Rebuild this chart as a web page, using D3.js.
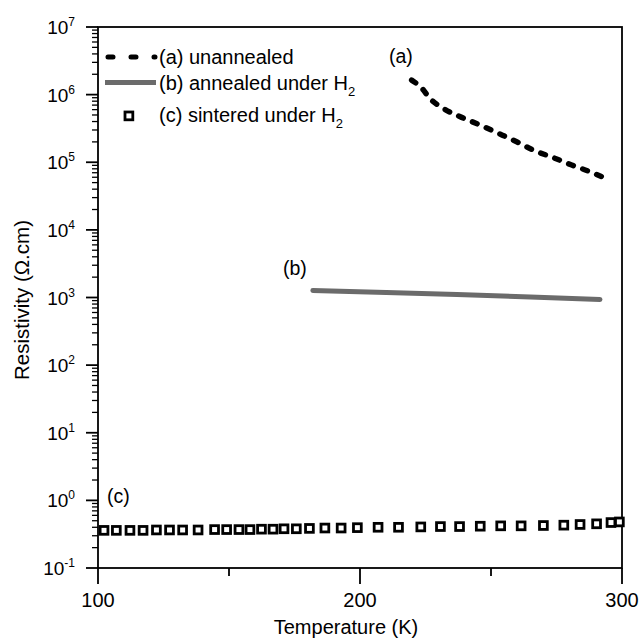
<!DOCTYPE html>
<html>
<head>
<meta charset="utf-8">
<script src="https://cdn.jsdelivr.net/npm/d3@7"></script>
<style>
  body { margin: 0; background: #fff; }
  svg { font-family: "Liberation Sans", Arial, sans-serif; }
</style>
</head>
<body>
<script>
// series (a) unannealed
var tempA = [219.7, 224.2, 226.1, 231.8, 238.8, 245.8, 252.8, 259.8, 266.2, 273.8, 280.8, 287.8, 292.3];
var resA = [1.64e6, 1.17e6, 9.3e5, 6.27e5, 4.61e5, 3.55e5, 2.68e5, 2.01e5, 1.51e5, 1.17e5, 9.1e4, 7.24e4, 6.1e4];
// series (b) annealed under H2
var tempB = [182, 210, 237, 265, 291.6];
var resB = [1270, 1190, 1110, 1020, 935];
// series (c) sintered under H2
var tempC = [102.3, 107, 112.2, 117.2, 122.3, 127.3, 132.3, 138.2, 144.5, 149.1, 153.8, 158, 162.4, 166.8,
             171, 175.7, 180.7, 186.6, 192.8, 199, 206.9, 214.7, 223.2, 230.7, 238, 245.9, 253.7, 261.5,
             270, 277.8, 284, 290.3, 295.8, 299];
var resC = [0.36, 0.36, 0.36, 0.36, 0.365, 0.365, 0.365, 0.365, 0.37, 0.37, 0.37, 0.37, 0.375, 0.375,
            0.38, 0.38, 0.385, 0.39, 0.39, 0.395, 0.40, 0.40, 0.405, 0.41, 0.41, 0.415, 0.42, 0.42,
            0.425, 0.43, 0.44, 0.45, 0.47, 0.48];

var xTicks = [100, 150, 200, 250, 300];
var xLabels = [100, 200, 300];
var yMajor = [-1, 0, 1, 2, 3, 4, 5, 6, 7];

var W = 640, H = 639;
var x = d3.scaleLinear().domain([100, 300]).range([98, 622]);
var y = d3.scaleLog().domain([0.1, 1e7]).range([568, 27]);

var svg = d3.select("body").append("svg")
    .attr("width", W).attr("height", H);

// frame
svg.append("rect")
    .attr("x", 98).attr("y", 27)
    .attr("width", 524).attr("height", 541)
    .attr("fill", "none").attr("stroke", "#000").attr("stroke-width", 1.8);

// x ticks
svg.selectAll(".xt").data(xTicks).enter().append("line")
    .attr("x1", function(d) { return x(d); })
    .attr("x2", function(d) { return x(d); })
    .attr("y1", 568)
    .attr("y2", function(d) { return d % 100 == 0 ? 584 : 576; })
    .attr("stroke", "#000").attr("stroke-width", 1.8);

svg.selectAll(".xl").data(xLabels).enter().append("text")
    .attr("x", function(d) { return x(d); })
    .attr("y", 607)
    .attr("text-anchor", "middle")
    .attr("font-size", 20)
    .text(function(d) { return d; });

// y ticks (major + minor)
var minor = [];
for (var e = -1; e < 7; e++) {
    for (var m = 2; m <= 9; m++) minor.push(m * Math.pow(10, e));
}
svg.selectAll(".ymin").data(minor).enter().append("line")
    .attr("x1", 92).attr("x2", 98)
    .attr("y1", function(d) { return y(d); })
    .attr("y2", function(d) { return y(d); })
    .attr("stroke", "#000").attr("stroke-width", 1.3);

svg.selectAll(".ymaj").data(yMajor).enter().append("line")
    .attr("x1", 86).attr("x2", 98)
    .attr("y1", function(d) { return y(Math.pow(10, d)); })
    .attr("y2", function(d) { return y(Math.pow(10, d)); })
    .attr("stroke", "#000").attr("stroke-width", 1.8);

var yl = svg.selectAll(".yl").data(yMajor).enter().append("text")
    .attr("x", 75)
    .attr("y", function(d) { return y(Math.pow(10, d)) + 7; })
    .attr("text-anchor", "end")
    .attr("font-size", 19);
yl.append("tspan").text("10");
yl.append("tspan").attr("font-size", 12).attr("dy", -8)
    .text(function(d) { return d; });

// axis titles
svg.append("text")
    .attr("x", 346).attr("y", 634)
    .attr("text-anchor", "middle").attr("font-size", 20)
    .text("Temperature (K)");
svg.append("text")
    .attr("transform", "translate(29,300) rotate(-90)")
    .attr("text-anchor", "middle").attr("font-size", 20.5)
    .text("Resistivity (\u03A9.cm)");

// series (a)
var lineA = d3.line()
    .x(function(d, i) { return x(tempA[i]); })
    .y(function(d, i) { return y(resA[i]); })
    .curve(d3.curveMonotoneX);
svg.append("path")
    .attr("d", lineA(resA))
    .attr("fill", "none").attr("stroke", "#000")
    .attr("stroke-width", 5.5).attr("stroke-linecap", "round")
    .attr("stroke-dasharray", "5,10");

// series (b)
var lineB = d3.line()
    .x(function(d, i) { return x(tempB[i]); })
    .y(function(d, i) { return y(resB[i]); });
svg.append("path")
    .attr("d", lineB(resB))
    .attr("fill", "none").attr("stroke", "#6b6b6b")
    .attr("stroke-width", 5).attr("stroke-linecap", "round");

// series (c)
svg.selectAll(".sq").data(resC).enter().append("rect")
    .attr("x", function(d, i) { return x(tempC[i]) - 3.9; })
    .attr("y", function(d) { return y(d) - 3.9; })
    .attr("width", 7.8).attr("height", 7.8)
    .attr("fill", "#fff").attr("stroke", "#000").attr("stroke-width", 2.8);

// annotations
svg.append("text").attr("x", 389).attr("y", 63).attr("font-size", 19.5).text("(a)");
svg.append("text").attr("x", 283).attr("y", 275).attr("font-size", 19.5).text("(b)");
svg.append("text").attr("x", 107).attr("y", 503).attr("font-size", 19.5).text("(c)");

// legend
var lg = svg.append("g");
lg.append("line").attr("x1", 108).attr("x2", 155).attr("y1", 57).attr("y2", 57)
    .attr("stroke", "#000").attr("stroke-width", 5).attr("stroke-linecap", "round")
    .attr("stroke-dasharray", "5,18");
lg.append("line").attr("x1", 105).attr("x2", 156).attr("y1", 82.5).attr("y2", 82.5)
    .attr("stroke", "#6b6b6b").attr("stroke-width", 5);
lg.append("rect").attr("x", 125).attr("y", 112).attr("width", 7.8).attr("height", 7.8)
    .attr("fill", "#fff").attr("stroke", "#000").attr("stroke-width", 2.8);

var t1 = lg.append("text").attr("x", 159).attr("y", 64).attr("font-size", 20);
t1.text("(a) unannealed");
var t2 = lg.append("text").attr("x", 159).attr("y", 90).attr("font-size", 20);
t2.append("tspan").text("(b) annealed under H");
t2.append("tspan").attr("font-size", 13).attr("dy", 6).text("2");
var t3 = lg.append("text").attr("x", 159).attr("y", 122).attr("font-size", 20);
t3.append("tspan").text("(c) sintered under H");
t3.append("tspan").attr("font-size", 13).attr("dy", 6).text("2");
</script>
</body>
</html>
